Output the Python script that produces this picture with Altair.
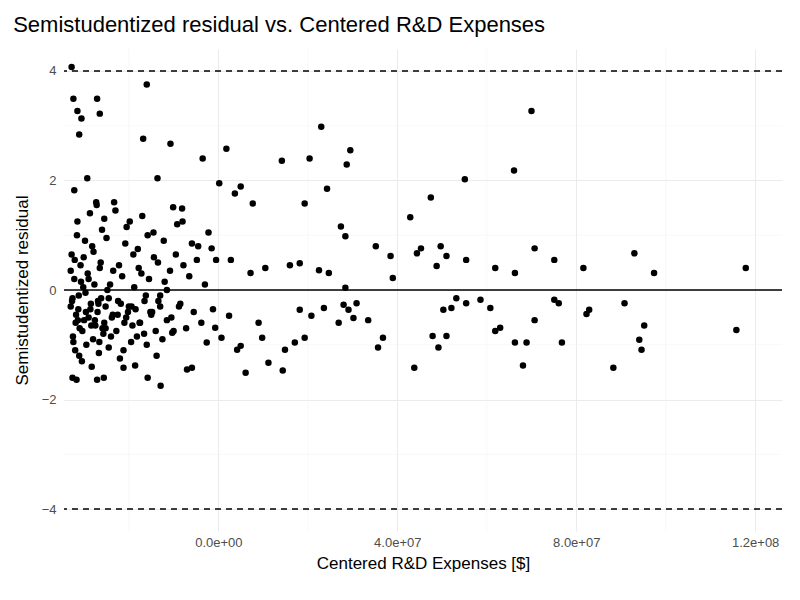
import altair as alt
import pandas as pd

# x in units of 1e7 dollars, y = semistudentized residual
xs = [
    -3.28, -3.24, -3.15, -3.06, -3.11, -2.71, -2.65, -1.60, -1.68, -1.07, -0.35, 0.18, 2.30, 2.04, 1.42,
    2.95, 2.87, 7.00, 6.61, 5.51, 4.75, 4.29, 2.43, 1.93, 0.50, 0.02, 0.37, 0.77, -1.36, -2.93, -3.22,
    -1.01, -0.81, 2.74, 2.84, 3.52, 4.53, 4.97, 7.07, 7.51, 5.54, 5.10, 4.88, 4.44, 3.85, 3.90, 6.19,
    6.63, 8.16, 9.30, 9.74, 11.79, 2.84, 2.47, 2.25, 1.82, 1.60, 1.05, 0.72, 0.28, -0.15, -0.59, -0.48,
    11.58, 9.52, 9.41, 9.46, 8.83, 9.08, 8.29, 8.23, 7.68, 7.61, 7.51, 7.07, 6.89, 6.63, 6.81, 6.30,
    6.19, 6.08, 5.86, 5.54, 5.32, 5.21, 5.03, 5.10, 4.92, 4.79, 4.38, 3.68, 3.57, 3.35, 3.09, 3.02,
    2.91, 2.80, 2.69, 2.36, 2.08, 1.93, 1.82, 1.71, 1.49, 1.44, 1.12, 0.98, 0.90, 0.61, 0.50, 0.42,
    0.24, 0.07, -0.07, -0.26, -0.59, -0.70, -1.03, -1.29, -1.58, -1.86, -2.12, -2.56, -2.71, -3.17, -3.26,
    # dense cluster
    -3.30, -3.28, -3.25, -3.22, -3.20, -3.18, -3.15, -3.12, -3.10, -3.08, -3.05, -3.02, -3.00, -2.98,
    -3.30, -3.27, -3.24, -3.21, -3.19, -3.16, -3.13, -3.11, -3.07, -3.04, -3.01, -2.97, -2.95, -2.92,
    -2.90, -2.87, -2.85, -2.82, -2.80, -2.77, -2.75, -2.72, -2.70, -2.67, -2.65, -2.62, -2.60, -2.57,
    -2.90, -2.86, -2.83, -2.79, -2.76, -2.73, -2.69, -2.66, -2.63, -2.59, -2.55, -2.52, -2.48, -2.45,
    -2.55, -2.50, -2.45, -2.40, -2.35, -2.30, -2.25, -2.20, -2.15, -2.10, -2.05, -2.00, -1.95, -1.90,
    -2.42, -2.38, -2.33, -2.28, -2.22, -2.18, -2.12, -2.08, -2.02, -1.98, -1.92, -1.88, -1.82, -1.78,
    -1.85, -1.80, -1.75, -1.70, -1.65, -1.60, -1.55, -1.50, -1.45, -1.40, -1.35, -1.30, -1.25, -1.20,
    -1.72, -1.66, -1.58, -1.52, -1.44, -1.38, -1.30, -1.22, -1.15, -1.08, -1.00, -0.92, -0.85, -0.78,
    -1.15, -1.05, -0.95, -0.88, -0.80, -0.72, -0.65, -0.55, -0.45, -0.38, -0.30, -0.22, -0.12, -0.05,
    -3.26, -3.14, -2.96, -2.84, -2.68, -2.52, -2.36, -2.24, -2.06, -1.94, -1.76, -1.62, -1.48, -1.34,
]
ys = [
    4.07, 3.49, 3.27, 3.13, 2.84, 3.49, 3.22, 3.75, 2.76, 2.67, 2.40, 2.58, 2.98, 2.40, 2.36,
    2.55, 2.29, 3.27, 2.18, 2.02, 1.69, 1.33, 1.85, 1.58, 1.89, 1.95, 1.76, 1.58, 2.04, 2.04, 1.82,
    1.51, 1.49, 1.16, 0.98, 0.80, 0.76, 0.80, 0.76, 0.55, 0.55, 0.62, 0.44, 0.67, 0.62, 0.22, 0.40,
    0.31, 0.40, 0.67, 0.31, 0.40, 0.04, 0.31, 0.36, 0.49, 0.45, 0.40, 0.31, 0.55, 0.76, 0.85, 0.55,
    -0.73, -0.65, -0.91, -1.09, -1.42, -0.24, -0.36, -0.44, -0.96, -0.24, -0.18, -0.55, -0.96, -0.96, -1.38, -0.69,
    -0.75, -0.33, -0.18, -0.24, -0.15, -0.33, -0.36, -0.84, -1.05, -0.84, -1.42, -0.87, -1.05, -0.55, -0.24, -0.51,
    -0.36, -0.27, -0.60, -0.33, -0.47, -0.87, -0.36, -0.96, -1.09, -1.47, -1.33, -0.87, -0.60, -1.51, -1.02, -1.09,
    -0.47, -0.87, -0.69, -0.96, -1.42, -1.45, -0.78, -1.75, -1.60, -1.38, -1.42, -1.60, -1.64, -1.64, -1.60,
    # dense cluster
    -0.30, 0.65, -0.85, 0.20, -1.10, -0.45, 1.25, -0.10, -0.70, 0.45, -1.30, 0.05, -0.55, 0.90,
    0.35, -0.20, -0.95, 0.55, -0.60, 1.00, -0.35, -1.20, 0.15, -0.75, 0.60, -0.05, -1.00, 0.30,
    -0.50, 1.40, -0.25, 0.80, -0.90, 0.10, -0.65, 1.55, -0.40, -1.15, 0.40, -0.15, 1.10, -0.80,
    0.20, -0.35, -1.40, 0.70, -0.55, 1.60, -0.20, -0.95, 0.50, -0.70, 1.30, -0.30, 0.00, -1.05,
    -0.60, 0.95, -0.15, -0.85, 0.35, 1.45, -0.45, -1.25, 0.25, -0.60, 1.15, -0.30, -0.95, 0.65,
    0.10, -0.50, 1.60, -0.75, 0.45, -0.25, -1.10, 0.85, -0.40, 1.25, -0.65, 0.05, -0.85, 0.40,
    -0.35, 0.75, -0.60, 1.35, -0.20, -1.00, 0.20, -0.45, 1.05, -0.75, 0.50, -0.30, -0.90, 0.15,
    0.30, -0.80, 1.00, -0.40, 0.60, -1.20, -0.10, 0.90, -0.55, 0.35, -0.75, 1.20, -0.25, 0.45,
    0.00, -0.50, 0.65, -0.30, 1.25, -0.70, 0.25, -0.40, 0.80, -0.60, 0.10, 1.05, -0.35, 0.55,
    -0.15, -0.55, -0.40, -0.65, -0.25, -0.70, -0.45, -0.20, -0.50, -0.30, -0.60, -0.10, -0.40, -0.20,
]

df = pd.DataFrame({"x": [v * 1e7 for v in xs], "y": ys})

x_major = [0, 4e7, 8e7, 1.2e8]
x_minor = [-2e7, 2e7, 6e7, 1e8]
y_major = [-4, -2, 0, 2, 4]
y_minor = [-3, -1, 1, 3]

xsc = alt.Scale(domain=[-3.45e7, 1.26e8], nice=False, zero=False)
ysc = alt.Scale(domain=[-4.4, 4.4], nice=False)

minor_v = alt.Chart(pd.DataFrame({"v": x_minor})).mark_rule(color="#f4f4f4", strokeWidth=0.6).encode(
    x=alt.X("v:Q", scale=xsc))
minor_h = alt.Chart(pd.DataFrame({"v": y_minor})).mark_rule(color="#f4f4f4", strokeWidth=0.6).encode(
    y=alt.Y("v:Q", scale=ysc))

points = alt.Chart(df).mark_circle(size=42, color="black", opacity=1).encode(
    x=alt.X("x:Q", scale=xsc, title="Centered R&D Expenses [$]",
            axis=alt.Axis(values=x_major, labelExpr="replace(format(datum.value, '.1e'), 'e+', 'e+0')",
                          gridColor="#ebebeb", domain=False, ticks=False, labelColor="#4d4d4d",
                          labelFontSize=13, titleFontSize=17, titleFontWeight="normal", labelPadding=5,
                          titlePadding=6)),
    y=alt.Y("y:Q", scale=ysc, title="Semistudentized residual",
            axis=alt.Axis(values=y_major, format="d", gridColor="#ebebeb", domain=False, ticks=False,
                          labelColor="#4d4d4d", labelFontSize=13, titleFontSize=17,
                          titleFontWeight="normal", labelPadding=8, titlePadding=10)),
)

zero = alt.Chart(pd.DataFrame({"v": [0]})).mark_rule(color="black", strokeWidth=1.5).encode(y=alt.Y("v:Q", scale=ysc))
bands = alt.Chart(pd.DataFrame({"v": [-4, 4]})).mark_rule(color="black", strokeWidth=1.5, strokeDash=[6, 5]).encode(
    y=alt.Y("v:Q", scale=ysc))

chart = alt.layer(minor_v, minor_h, points, zero, bands).properties(
    width=718, height=482,
    title=alt.Title("Semistudentized residual vs. Centered R&D Expenses", anchor="start", frame="bounds",
                    fontSize=22, fontWeight="normal", offset=12),
).configure(font="Liberation Sans").configure_view(stroke=None)

chart.save("out.html", embed_options={"renderer": "svg", "actions": False})
